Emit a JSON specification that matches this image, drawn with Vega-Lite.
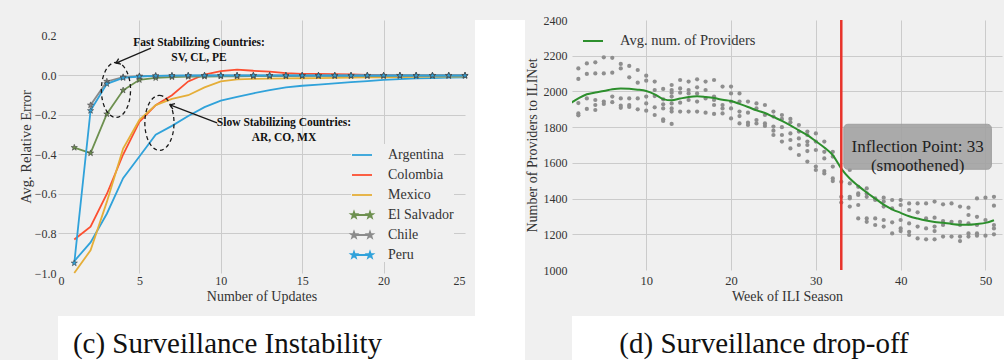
{
  "$schema": "https://vega.github.io/schema/vega-lite/v6.json",
  "background": "#f0f0f0",
  "padding": {"left": 18, "top": 14, "right": 0, "bottom": 0},
  "columns": 3,
  "align": "each",
  "spacing": 0,
  "resolve": {
    "scale": {"color": "independent", "fill": "independent", "shape": "independent", "stroke": "independent"},
    "legend": {"color": "independent", "fill": "independent", "shape": "independent", "stroke": "independent"}
  },
  "config": {
    "font": "Liberation Serif",
    "view": {"stroke": null},
    "axis": {"domain": false, "ticks": false, "labelOverlap": false, "gridColor": "#cbcbcb", "gridWidth": 1, "labelFont": "Liberation Serif", "titleFont": "Liberation Serif", "labelColor": "#333333", "titleColor": "#333333", "titleFontWeight": "normal", "labelFontSize": 12.5, "titleFontSize": 14},
    "axisY": {"labelOverlap": false},
    "legend": {"labelFont": "Liberation Serif", "labelColor": "#333333", "labelFontSize": 14}
  },
  "datasets": {
    "err": [
      {"country": "Argentina", "update": 1, "error": -0.94}, {"country": "Argentina", "update": 2, "error": -0.845}, {"country": "Argentina", "update": 3, "error": -0.70}, {"country": "Argentina", "update": 4, "error": -0.52}, {"country": "Argentina", "update": 5, "error": -0.41}, {"country": "Argentina", "update": 6, "error": -0.30}, {"country": "Argentina", "update": 7, "error": -0.255}, {"country": "Argentina", "update": 8, "error": -0.205}, {"country": "Argentina", "update": 9, "error": -0.16}, {"country": "Argentina", "update": 10, "error": -0.127}, {"country": "Argentina", "update": 11, "error": -0.108}, {"country": "Argentina", "update": 12, "error": -0.09}, {"country": "Argentina", "update": 13, "error": -0.074}, {"country": "Argentina", "update": 14, "error": -0.06}, {"country": "Argentina", "update": 15, "error": -0.052}, {"country": "Argentina", "update": 16, "error": -0.046}, {"country": "Argentina", "update": 17, "error": -0.04}, {"country": "Argentina", "update": 18, "error": -0.034}, {"country": "Argentina", "update": 19, "error": -0.028}, {"country": "Argentina", "update": 20, "error": -0.022}, {"country": "Argentina", "update": 21, "error": -0.018}, {"country": "Argentina", "update": 22, "error": -0.015}, {"country": "Argentina", "update": 23, "error": -0.013}, {"country": "Argentina", "update": 24, "error": -0.011}, {"country": "Argentina", "update": 25, "error": -0.01},
      {"country": "Colombia", "update": 1, "error": -0.83}, {"country": "Colombia", "update": 2, "error": -0.765}, {"country": "Colombia", "update": 3, "error": -0.60}, {"country": "Colombia", "update": 4, "error": -0.40}, {"country": "Colombia", "update": 5, "error": -0.235}, {"country": "Colombia", "update": 6, "error": -0.15}, {"country": "Colombia", "update": 7, "error": -0.10}, {"country": "Colombia", "update": 8, "error": -0.03}, {"country": "Colombia", "update": 9, "error": 0.005}, {"country": "Colombia", "update": 10, "error": 0.022}, {"country": "Colombia", "update": 11, "error": 0.03}, {"country": "Colombia", "update": 12, "error": 0.024}, {"country": "Colombia", "update": 13, "error": 0.02}, {"country": "Colombia", "update": 14, "error": 0.012}, {"country": "Colombia", "update": 15, "error": 0.008}, {"country": "Colombia", "update": 16, "error": 0.008}, {"country": "Colombia", "update": 17, "error": 0.007}, {"country": "Colombia", "update": 18, "error": 0.005}, {"country": "Colombia", "update": 19, "error": 0.003}, {"country": "Colombia", "update": 20, "error": 0.002}, {"country": "Colombia", "update": 21, "error": 0.001}, {"country": "Colombia", "update": 22, "error": 0.0}, {"country": "Colombia", "update": 23, "error": 0.0}, {"country": "Colombia", "update": 24, "error": 0.0}, {"country": "Colombia", "update": 25, "error": 0.0},
      {"country": "Mexico", "update": 1, "error": -1.0}, {"country": "Mexico", "update": 2, "error": -0.885}, {"country": "Mexico", "update": 3, "error": -0.64}, {"country": "Mexico", "update": 4, "error": -0.37}, {"country": "Mexico", "update": 5, "error": -0.225}, {"country": "Mexico", "update": 6, "error": -0.15}, {"country": "Mexico", "update": 7, "error": -0.118}, {"country": "Mexico", "update": 8, "error": -0.10}, {"country": "Mexico", "update": 9, "error": -0.06}, {"country": "Mexico", "update": 10, "error": -0.03}, {"country": "Mexico", "update": 11, "error": -0.02}, {"country": "Mexico", "update": 12, "error": -0.017}, {"country": "Mexico", "update": 13, "error": -0.016}, {"country": "Mexico", "update": 14, "error": -0.015}, {"country": "Mexico", "update": 15, "error": -0.014}, {"country": "Mexico", "update": 16, "error": -0.013}, {"country": "Mexico", "update": 17, "error": -0.012}, {"country": "Mexico", "update": 18, "error": -0.011}, {"country": "Mexico", "update": 19, "error": -0.01}, {"country": "Mexico", "update": 20, "error": -0.009}, {"country": "Mexico", "update": 21, "error": -0.008}, {"country": "Mexico", "update": 22, "error": -0.007}, {"country": "Mexico", "update": 23, "error": -0.006}, {"country": "Mexico", "update": 24, "error": -0.006}, {"country": "Mexico", "update": 25, "error": -0.005},
      {"country": "El Salvador", "update": 1, "error": -0.365}, {"country": "El Salvador", "update": 2, "error": -0.393}, {"country": "El Salvador", "update": 3, "error": -0.195}, {"country": "El Salvador", "update": 4, "error": -0.075}, {"country": "El Salvador", "update": 5, "error": -0.022}, {"country": "El Salvador", "update": 6, "error": -0.012}, {"country": "El Salvador", "update": 7, "error": -0.008}, {"country": "El Salvador", "update": 8, "error": -0.006}, {"country": "El Salvador", "update": 9, "error": -0.005}, {"country": "El Salvador", "update": 10, "error": -0.004}, {"country": "El Salvador", "update": 11, "error": -0.004}, {"country": "El Salvador", "update": 12, "error": -0.003}, {"country": "El Salvador", "update": 13, "error": -0.003}, {"country": "El Salvador", "update": 14, "error": -0.003}, {"country": "El Salvador", "update": 15, "error": -0.002}, {"country": "El Salvador", "update": 16, "error": -0.002}, {"country": "El Salvador", "update": 17, "error": -0.002}, {"country": "El Salvador", "update": 18, "error": -0.002}, {"country": "El Salvador", "update": 19, "error": -0.002}, {"country": "El Salvador", "update": 20, "error": -0.002}, {"country": "El Salvador", "update": 21, "error": -0.001}, {"country": "El Salvador", "update": 22, "error": -0.001}, {"country": "El Salvador", "update": 23, "error": -0.001}, {"country": "El Salvador", "update": 24, "error": -0.001}, {"country": "El Salvador", "update": 25, "error": -0.001},
      {"country": "Chile", "update": 2, "error": -0.15}, {"country": "Chile", "update": 3, "error": -0.03}, {"country": "Chile", "update": 4, "error": -0.008}, {"country": "Chile", "update": 5, "error": -0.003}, {"country": "Chile", "update": 6, "error": -0.002}, {"country": "Chile", "update": 7, "error": -0.001}, {"country": "Chile", "update": 8, "error": -0.001}, {"country": "Chile", "update": 9, "error": 0.0}, {"country": "Chile", "update": 10, "error": 0.0}, {"country": "Chile", "update": 11, "error": 0.0}, {"country": "Chile", "update": 12, "error": 0.0}, {"country": "Chile", "update": 13, "error": 0.0}, {"country": "Chile", "update": 14, "error": 0.0}, {"country": "Chile", "update": 15, "error": 0.0}, {"country": "Chile", "update": 16, "error": 0.0}, {"country": "Chile", "update": 17, "error": 0.0}, {"country": "Chile", "update": 18, "error": 0.0}, {"country": "Chile", "update": 19, "error": 0.0}, {"country": "Chile", "update": 20, "error": 0.0}, {"country": "Chile", "update": 21, "error": 0.0}, {"country": "Chile", "update": 22, "error": 0.0}, {"country": "Chile", "update": 23, "error": 0.0}, {"country": "Chile", "update": 24, "error": 0.0}, {"country": "Chile", "update": 25, "error": 0.0},
      {"country": "Peru", "update": 1, "error": -0.95}, {"country": "Peru", "update": 2, "error": -0.178}, {"country": "Peru", "update": 3, "error": -0.042}, {"country": "Peru", "update": 4, "error": -0.012}, {"country": "Peru", "update": 5, "error": -0.005}, {"country": "Peru", "update": 6, "error": -0.002}, {"country": "Peru", "update": 7, "error": -0.001}, {"country": "Peru", "update": 8, "error": 0.0}, {"country": "Peru", "update": 9, "error": 0.0}, {"country": "Peru", "update": 10, "error": 0.0}, {"country": "Peru", "update": 11, "error": 0.0}, {"country": "Peru", "update": 12, "error": 0.0}, {"country": "Peru", "update": 13, "error": 0.0}, {"country": "Peru", "update": 14, "error": 0.0}, {"country": "Peru", "update": 15, "error": 0.0}, {"country": "Peru", "update": 16, "error": 0.0}, {"country": "Peru", "update": 17, "error": 0.0}, {"country": "Peru", "update": 18, "error": 0.0}, {"country": "Peru", "update": 19, "error": 0.0}, {"country": "Peru", "update": 20, "error": 0.0}, {"country": "Peru", "update": 21, "error": 0.0}, {"country": "Peru", "update": 22, "error": 0.0}, {"country": "Peru", "update": 23, "error": 0.0}, {"country": "Peru", "update": 24, "error": 0.0}, {"country": "Peru", "update": 25, "error": 0.0}
    ],
    "avg": [
      {"week": 1, "providers": 1932}, {"week": 2, "providers": 1961}, {"week": 3, "providers": 1984}, {"week": 4, "providers": 1994}, {"week": 5, "providers": 2002}, {"week": 6, "providers": 2012}, {"week": 7, "providers": 2017}, {"week": 8, "providers": 2015}, {"week": 9, "providers": 2010}, {"week": 10, "providers": 2002}, {"week": 11, "providers": 1984}, {"week": 12, "providers": 1957}, {"week": 13, "providers": 1950}, {"week": 14, "providers": 1960}, {"week": 15, "providers": 1969}, {"week": 16, "providers": 1973}, {"week": 17, "providers": 1969}, {"week": 18, "providers": 1963}, {"week": 19, "providers": 1953}, {"week": 20, "providers": 1946}, {"week": 21, "providers": 1930}, {"week": 22, "providers": 1913}, {"week": 23, "providers": 1894}, {"week": 24, "providers": 1879}, {"week": 25, "providers": 1857}, {"week": 26, "providers": 1835}, {"week": 27, "providers": 1810}, {"week": 28, "providers": 1782}, {"week": 29, "providers": 1755}, {"week": 30, "providers": 1721}, {"week": 31, "providers": 1686}, {"week": 32, "providers": 1643}, {"week": 33, "providers": 1568}, {"week": 34, "providers": 1512}, {"week": 35, "providers": 1471}, {"week": 36, "providers": 1434}, {"week": 37, "providers": 1400}, {"week": 38, "providers": 1366}, {"week": 39, "providers": 1340}, {"week": 40, "providers": 1320}, {"week": 41, "providers": 1301}, {"week": 42, "providers": 1288}, {"week": 43, "providers": 1277}, {"week": 44, "providers": 1269}, {"week": 45, "providers": 1264}, {"week": 46, "providers": 1258}, {"week": 47, "providers": 1254}, {"week": 48, "providers": 1254}, {"week": 49, "providers": 1258}, {"week": 50, "providers": 1264}, {"week": 51, "providers": 1279}
    ],
    "dots": [
      {"week": 1, "providers": 2055}, {"week": 1, "providers": 1840},
      {"week": 2, "providers": 2129}, {"week": 2, "providers": 2070}, {"week": 2, "providers": 1935}, {"week": 2, "providers": 1877}, {"week": 2, "providers": 1866},
      {"week": 3, "providers": 2157}, {"week": 3, "providers": 2098}, {"week": 3, "providers": 1961}, {"week": 3, "providers": 1902},
      {"week": 4, "providers": 2163}, {"week": 4, "providers": 2101}, {"week": 4, "providers": 1952}, {"week": 4, "providers": 1924}, {"week": 4, "providers": 1896},
      {"week": 5, "providers": 2191}, {"week": 5, "providers": 2101}, {"week": 5, "providers": 1943}, {"week": 5, "providers": 1930},
      {"week": 6, "providers": 2188}, {"week": 6, "providers": 2105}, {"week": 6, "providers": 1971}, {"week": 6, "providers": 1940},
      {"week": 7, "providers": 2154}, {"week": 7, "providers": 2129}, {"week": 7, "providers": 1961}, {"week": 7, "providers": 1920}, {"week": 7, "providers": 1908},
      {"week": 8, "providers": 2143}, {"week": 8, "providers": 2079}, {"week": 8, "providers": 1961}, {"week": 8, "providers": 1924}, {"week": 8, "providers": 1913},
      {"week": 9, "providers": 2120}, {"week": 9, "providers": 2049}, {"week": 9, "providers": 1961}, {"week": 9, "providers": 1900},
      {"week": 10, "providers": 2088}, {"week": 10, "providers": 2060}, {"week": 10, "providers": 1971}, {"week": 10, "providers": 1933}, {"week": 10, "providers": 1892},
      {"week": 11, "providers": 2055}, {"week": 11, "providers": 2008}, {"week": 11, "providers": 1974}, {"week": 11, "providers": 1911}, {"week": 11, "providers": 1868},
      {"week": 12, "providers": 2014}, {"week": 12, "providers": 1956}, {"week": 12, "providers": 1928}, {"week": 12, "providers": 1905}, {"week": 12, "providers": 1844}, {"week": 12, "providers": 1835},
      {"week": 13, "providers": 2036}, {"week": 13, "providers": 2008}, {"week": 13, "providers": 1993}, {"week": 13, "providers": 1971}, {"week": 13, "providers": 1933}, {"week": 13, "providers": 1905}, {"week": 13, "providers": 1887}, {"week": 13, "providers": 1818},
      {"week": 14, "providers": 2064}, {"week": 14, "providers": 2017}, {"week": 14, "providers": 1993}, {"week": 14, "providers": 1937}, {"week": 14, "providers": 1887},
      {"week": 15, "providers": 2055}, {"week": 15, "providers": 2008}, {"week": 15, "providers": 1989}, {"week": 15, "providers": 1952}, {"week": 15, "providers": 1887},
      {"week": 16, "providers": 2068}, {"week": 16, "providers": 2023}, {"week": 16, "providers": 1989}, {"week": 16, "providers": 1943}, {"week": 16, "providers": 1887},
      {"week": 17, "providers": 2055}, {"week": 17, "providers": 2008}, {"week": 17, "providers": 1961}, {"week": 17, "providers": 1881},
      {"week": 18, "providers": 2064}, {"week": 18, "providers": 1971}, {"week": 18, "providers": 1952}, {"week": 18, "providers": 1924}, {"week": 18, "providers": 1874},
      {"week": 19, "providers": 2027}, {"week": 19, "providers": 1924}, {"week": 19, "providers": 1905}, {"week": 19, "providers": 1877},
      {"week": 20, "providers": 2027}, {"week": 20, "providers": 1989}, {"week": 20, "providers": 1943}, {"week": 20, "providers": 1905}, {"week": 20, "providers": 1849},
      {"week": 21, "providers": 1989}, {"week": 21, "providers": 1943}, {"week": 21, "providers": 1887}, {"week": 21, "providers": 1862}, {"week": 21, "providers": 1821},
      {"week": 22, "providers": 1943}, {"week": 22, "providers": 1881}, {"week": 22, "providers": 1825}, {"week": 22, "providers": 1812},
      {"week": 23, "providers": 1933}, {"week": 23, "providers": 1905}, {"week": 23, "providers": 1840}, {"week": 23, "providers": 1821},
      {"week": 24, "providers": 1924}, {"week": 24, "providers": 1868}, {"week": 24, "providers": 1821}, {"week": 24, "providers": 1807},
      {"week": 25, "providers": 1887}, {"week": 25, "providers": 1859}, {"week": 25, "providers": 1803}, {"week": 25, "providers": 1780}, {"week": 25, "providers": 1756},
      {"week": 26, "providers": 1868}, {"week": 26, "providers": 1846}, {"week": 26, "providers": 1800}, {"week": 26, "providers": 1756}, {"week": 26, "providers": 1719},
      {"week": 27, "providers": 1846}, {"week": 27, "providers": 1827}, {"week": 27, "providers": 1765}, {"week": 27, "providers": 1728}, {"week": 27, "providers": 1681},
      {"week": 28, "providers": 1812}, {"week": 28, "providers": 1775}, {"week": 28, "providers": 1737}, {"week": 28, "providers": 1700}, {"week": 28, "providers": 1644},
      {"week": 29, "providers": 1775}, {"week": 29, "providers": 1756}, {"week": 29, "providers": 1719}, {"week": 29, "providers": 1700}, {"week": 29, "providers": 1666}, {"week": 29, "providers": 1607},
      {"week": 30, "providers": 1765}, {"week": 30, "providers": 1719}, {"week": 30, "providers": 1672}, {"week": 30, "providers": 1579}, {"week": 30, "providers": 1560},
      {"week": 31, "providers": 1719}, {"week": 31, "providers": 1662}, {"week": 31, "providers": 1625}, {"week": 31, "providers": 1554}, {"week": 31, "providers": 1541},
      {"week": 32, "providers": 1662}, {"week": 32, "providers": 1635}, {"week": 32, "providers": 1579}, {"week": 32, "providers": 1513}, {"week": 32, "providers": 1498},
      {"week": 33, "providers": 1494}, {"week": 33, "providers": 1410}, {"week": 33, "providers": 1378},
      {"week": 34, "providers": 1560}, {"week": 34, "providers": 1485}, {"week": 34, "providers": 1410}, {"week": 34, "providers": 1401}, {"week": 34, "providers": 1355},
      {"week": 35, "providers": 1466}, {"week": 35, "providers": 1429}, {"week": 35, "providers": 1420}, {"week": 35, "providers": 1364}, {"week": 35, "providers": 1289},
      {"week": 36, "providers": 1457}, {"week": 36, "providers": 1429}, {"week": 36, "providers": 1410}, {"week": 36, "providers": 1289}, {"week": 36, "providers": 1270},
      {"week": 37, "providers": 1401}, {"week": 37, "providers": 1392}, {"week": 37, "providers": 1289}, {"week": 37, "providers": 1252},
      {"week": 38, "providers": 1405}, {"week": 38, "providers": 1383}, {"week": 38, "providers": 1355}, {"week": 38, "providers": 1280}, {"week": 38, "providers": 1243},
      {"week": 39, "providers": 1392}, {"week": 39, "providers": 1345}, {"week": 39, "providers": 1267}, {"week": 39, "providers": 1205},
      {"week": 40, "providers": 1392}, {"week": 40, "providers": 1364}, {"week": 40, "providers": 1280}, {"week": 40, "providers": 1233}, {"week": 40, "providers": 1218},
      {"week": 41, "providers": 1373}, {"week": 41, "providers": 1336}, {"week": 41, "providers": 1261}, {"week": 41, "providers": 1214}, {"week": 41, "providers": 1196},
      {"week": 42, "providers": 1373}, {"week": 42, "providers": 1323}, {"week": 42, "providers": 1243}, {"week": 42, "providers": 1177},
      {"week": 43, "providers": 1373}, {"week": 43, "providers": 1289}, {"week": 43, "providers": 1233}, {"week": 43, "providers": 1172},
      {"week": 44, "providers": 1383}, {"week": 44, "providers": 1293}, {"week": 44, "providers": 1243}, {"week": 44, "providers": 1218}, {"week": 44, "providers": 1172},
      {"week": 45, "providers": 1368}, {"week": 45, "providers": 1274}, {"week": 45, "providers": 1252}, {"week": 45, "providers": 1187},
      {"week": 46, "providers": 1373}, {"week": 46, "providers": 1270}, {"week": 46, "providers": 1187},
      {"week": 47, "providers": 1355}, {"week": 47, "providers": 1270}, {"week": 47, "providers": 1252}, {"week": 47, "providers": 1187}, {"week": 47, "providers": 1162},
      {"week": 48, "providers": 1349}, {"week": 48, "providers": 1308}, {"week": 48, "providers": 1261}, {"week": 48, "providers": 1205}, {"week": 48, "providers": 1187},
      {"week": 49, "providers": 1401}, {"week": 49, "providers": 1298}, {"week": 49, "providers": 1252}, {"week": 49, "providers": 1205}, {"week": 49, "providers": 1192},
      {"week": 50, "providers": 1405}, {"week": 50, "providers": 1280}, {"week": 50, "providers": 1192},
      {"week": 51, "providers": 1410}, {"week": 51, "providers": 1360}, {"week": 51, "providers": 1252}, {"week": 51, "providers": 1233}, {"week": 51, "providers": 1200}
    ]
  },
  "concat": [
    {
      "width": 407, "height": 253,
      "encoding": {
        "x": {"field": "update", "type": "quantitative", "scale": {"domain": [0, 25], "nice": false, "zero": false},
              "axis": {"values": [0, 5, 10, 15, 20, 25], "title": "Number of Updates", "labelFontSize": 12, "labelPadding": 2, "titlePadding": 3, "labelOverlap": false, "gridOpacity": {"condition": {"test": "datum.value == 0 || datum.value == 25", "value": 0}, "value": 1}}},
        "y": {"field": "error", "type": "quantitative", "scale": {"domain": [-1.0, 0.281], "nice": false, "zero": false},
              "axis": {"values": [-1.0, -0.8, -0.6, -0.4, -0.2, 0.0, 0.2], "format": ".1f", "title": "Avg. Relative Error", "titleFontSize": 14.5, "labelFontSize": 12, "labelPadding": 2, "titlePadding": 1, "labelOverlap": false, "gridOpacity": {"condition": {"test": "datum.value > 0.1 || datum.value < -0.9", "value": 0}, "value": 1}}}
      },
      "layer": [
        {
          "data": {"name": "err"},
          "mark": {"type": "line", "strokeWidth": 1.8},
          "encoding": {
            "color": {"field": "country", "type": "nominal",
                      "scale": {"domain": ["Argentina", "Colombia", "Mexico", "El Salvador", "Chile", "Peru"], "range": ["#30a2da", "#fc4f30", "#e5ae38", "#6d904f", "#8b8b8b", "#30a2da"]},
                      "legend": {"title": null, "orient": "bottom-right", "offset": 11, "padding": 0, "fillColor": "#f0f0f0", "labelFontSize": 14, "labelOffset": 15, "rowPadding": 2, "symbolSize": 400, "symbolStrokeWidth": 1.8}}
          }
        },
        {
          "data": {"name": "err"},
          "transform": [{"filter": {"field": "country", "oneOf": ["El Salvador", "Chile", "Peru"]}}],
          "mark": {"type": "point", "shape": "M0,-1L0.235,-0.324L0.951,-0.309L0.38,0.124L0.588,0.809L0,0.4L-0.588,0.809L-0.38,0.124L-0.951,-0.309L-0.235,-0.324Z", "filled": true, "size": 42, "stroke": "#444444", "strokeWidth": 0.6, "opacity": 1},
          "encoding": {
            "fill": {"field": "country", "type": "nominal", "legend": null,
                     "scale": {"domain": ["El Salvador", "Chile", "Peru"], "range": ["#6d904f", "#8b8b8b", "#30a2da"]}}
          }
        },
        {
          "data": {"name": "err"},
          "transform": [{"filter": "datum.update > 100"}],
          "mark": {"type": "point", "filled": false, "opacity": 1, "strokeWidth": 1.8},
          "encoding": {
            "color": {"field": "country", "type": "nominal",
                      "legend": {"title": null, "orient": "bottom-right", "offset": 11, "padding": 0, "fillColor": "#f0f0f0", "labelFontSize": 14, "labelOffset": 15, "rowPadding": 2, "symbolSize": 400, "symbolStrokeWidth": 1.8}},
            "shape": {"field": "country", "type": "nominal",
                      "scale": {"domain": ["Argentina", "Colombia", "Mexico", "El Salvador", "Chile", "Peru"],
                                "range": ["stroke", "stroke", "stroke",
                                          "M-1,0H1M-0.8,-0.3L-0.73,-0.1L-0.515,-0.093L-0.686,0.037L-0.624,0.243L-0.8,0.12L-0.976,0.243L-0.914,0.037L-1.085,-0.093L-0.87,-0.1ZM0.8,-0.3L0.87,-0.1L1.085,-0.093L0.914,0.037L0.976,0.243L0.8,0.12L0.624,0.243L0.686,0.037L0.515,-0.093L0.73,-0.1Z",
                                          "M-1,0H1M-0.8,-0.3L-0.73,-0.1L-0.515,-0.093L-0.686,0.037L-0.624,0.243L-0.8,0.12L-0.976,0.243L-0.914,0.037L-1.085,-0.093L-0.87,-0.1ZM0.8,-0.3L0.87,-0.1L1.085,-0.093L0.914,0.037L0.976,0.243L0.8,0.12L0.624,0.243L0.686,0.037L0.515,-0.093L0.73,-0.1Z",
                                          "M-1,0H1M-0.8,-0.3L-0.73,-0.1L-0.515,-0.093L-0.686,0.037L-0.624,0.243L-0.8,0.12L-0.976,0.243L-0.914,0.037L-1.085,-0.093L-0.87,-0.1ZM0.8,-0.3L0.87,-0.1L1.085,-0.093L0.914,0.037L0.976,0.243L0.8,0.12L0.624,0.243L0.686,0.037L0.515,-0.093L0.73,-0.1Z"]},
                      "legend": {"title": null, "orient": "bottom-right", "offset": 11, "padding": 0, "fillColor": "#f0f0f0", "labelFontSize": 14, "labelOffset": 15, "rowPadding": 2, "symbolSize": 400, "symbolStrokeWidth": 1.8}}
          }
        },
        {
          "data": {"values": [{"update": 3.56, "error": -0.073}, {"update": 6.23, "error": -0.24}]},
          "mark": {"type": "point", "shape": "M0,-1C0.293,-1 0.53,-0.552 0.53,0C0.53,0.552 0.293,1 0,1C-0.293,1 -0.53,0.552 -0.53,0C-0.53,-0.552 -0.293,-1 0,-1Z", "size": 3025, "filled": false, "stroke": "#1a1a1a", "strokeWidth": 1.3, "strokeDash": [4, 3], "opacity": 1}
        },
        {
          "data": {"values": [{"update": 5.71, "error": 0.139, "update2": 3.56, "error2": 0.063}, {"update": 9.77, "error": -0.24, "update2": 6.88, "error2": -0.149}]},
          "mark": {"type": "rule", "color": "#1a1a1a", "strokeWidth": 1.3},
          "encoding": {"x2": {"field": "update2"}, "y2": {"field": "error2"}}
        },
        {
          "data": {"values": [{"update": 3.56, "error": 0.063}]},
          "mark": {"type": "point", "shape": "M-1,1.4L0,0L1,1.4", "angle": 247, "size": 36, "filled": false, "stroke": "#1a1a1a", "strokeWidth": 1.3, "opacity": 1}
        },
        {
          "data": {"values": [{"update": 6.88, "error": -0.149}]},
          "mark": {"type": "point", "shape": "M-1,1.4L0,0L1,1.4", "angle": 291, "size": 36, "filled": false, "stroke": "#1a1a1a", "strokeWidth": 1.3, "opacity": 1}
        },
        {
          "data": {"values": [{"update": 8.66, "error": 0.167, "label": "Fast Stabilizing Countries:\nSV, CL, PE"}, {"update": 13.88, "error": -0.238, "label": "Slow Stabilizing Countries:\nAR, CO, MX"}]},
          "mark": {"type": "text", "font": "Liberation Serif", "fontWeight": "bold", "fontSize": 11.5, "lineBreak": "\n", "lineHeight": 15, "align": "center", "baseline": "middle", "color": "#111111"},
          "encoding": {"text": {"field": "label"}}
        }
      ]
    },
    {
      "width": 50, "height": 296,
      "data": {"values": [{"blank": ""}]},
      "mark": {"type": "text"},
      "encoding": {"text": {"field": "blank"}},
      "view": {"fill": "#ffffff", "stroke": null}
    },
    {
      "width": 430, "height": 250,
      "encoding": {
        "x": {"field": "week", "type": "quantitative", "scale": {"domain": [1.25, 51.95], "nice": false, "zero": false},
              "axis": {"values": [10, 20, 30, 40, 50], "title": "Week of ILI Season", "labelPadding": 4, "titlePadding": 3, "labelOverlap": false}},
        "y": {"field": "providers", "type": "quantitative", "scale": {"domain": [1000, 2400], "nice": false, "zero": false},
              "axis": {"values": [1000, 1200, 1400, 1600, 1800, 2000, 2200, 2400], "format": "d", "title": "Number of Providers to ILINet", "labelPadding": 5, "titlePadding": 4, "labelOverlap": false, "labelFontSize": 12, "gridOpacity": {"condition": {"test": "datum.value == 1000 || datum.value == 2400", "value": 0}, "value": 1}}}
      },
      "layer": [
        {
          "data": {"name": "dots"},
          "mark": {"type": "circle", "size": 18, "color": "#8e8e8e", "opacity": 1, "clip": true}
        },
        {
          "data": {"name": "avg"},
          "mark": {"type": "line", "strokeWidth": 2, "interpolate": "monotone", "clip": true},
          "encoding": {
            "stroke": {"datum": "Avg. num. of Providers", "type": "nominal", "scale": {"range": ["#2d8f2d"]},
                       "legend": {"title": null, "orient": "top-left", "offset": 10, "padding": 0, "labelFontSize": 14.5, "labelOffset": 16, "symbolType": "stroke", "symbolSize": 400, "symbolStrokeWidth": 2}}
          }
        },
        {
          "data": {"values": [{"week": 33}]},
          "mark": {"type": "rule", "color": "#e8332b", "strokeWidth": 2.5},
          "encoding": {"y": null}
        },
        {
          "data": {"values": [{"week": 33.3, "week2": 50.7, "providers": 1816, "providers2": 1564}]},
          "mark": {"type": "rect", "fill": "#a3a3a3", "opacity": 0.9, "cornerRadius": 4, "stroke": "#9a9a9a", "strokeWidth": 1},
          "encoding": {"x2": {"field": "week2"}, "y2": {"field": "providers2"}}
        },
        {
          "data": {"values": [{"week": 42, "providers": 1690, "label": "Inflection Point: 33\n(smoothened)"}]},
          "mark": {"type": "text", "font": "Liberation Serif", "fontSize": 17, "lineBreak": "\n", "lineHeight": 19, "align": "center", "baseline": "middle", "color": "#222222"},
          "encoding": {"text": {"field": "label"}}
        }
      ]
    },
    {
      "width": 417, "height": 44,
      "data": {"values": [{"caption": "(c) Surveillance Instability"}]},
      "mark": {"type": "text", "font": "Liberation Serif", "fontSize": 29, "baseline": "middle", "dy": 6, "dx": -39, "color": "#111111"},
      "encoding": {"text": {"field": "caption"}},
      "view": {"fill": "#ffffff", "stroke": null}
    },
    {
      "width": 50, "height": 44,
      "data": {"values": [{"blank": ""}]},
      "mark": {"type": "text"},
      "encoding": {"text": {"field": "blank"}},
      "view": {"fill": "#ffffff", "stroke": null}
    },
    {
      "width": 432, "height": 44,
      "data": {"values": [{"caption": "(d) Surveillance drop-off"}]},
      "mark": {"type": "text", "font": "Liberation Serif", "fontSize": 29, "baseline": "middle", "dy": 6, "dx": -24, "color": "#111111"},
      "encoding": {"text": {"field": "caption"}},
      "view": {"fill": "#ffffff", "stroke": null}
    }
  ]
}
